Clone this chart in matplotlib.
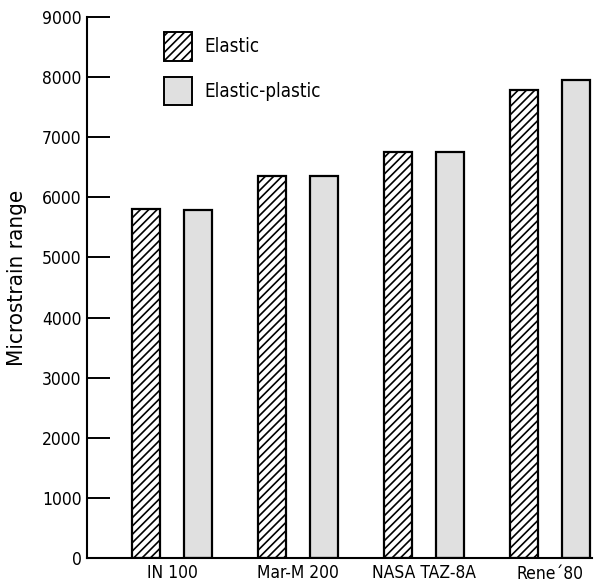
import matplotlib
matplotlib.use("Agg")
import matplotlib.pyplot as plt
import numpy as np
from matplotlib.patches import Patch

categories = ["IN 100", "Mar-M 200", "NASA TAZ-8A", "Rene\u00b480"]
elastic = [5800, 6350, 6760, 7790]
elastic_plastic = [5790, 6360, 6750, 7960]
yticks = [0, 1000, 2000, 3000, 4000, 5000, 6000, 7000, 8000, 9000]

plt.rcParams['font.family'] = ['DejaVu Sans']
plt.rcParams['font.stretch'] = 'condensed'
plt.rcParams['hatch.linewidth'] = 1.2

W, H = 604, 586
fig = plt.figure(figsize=(W/100, H/100), dpi=100)
L, R, B, T = 87, 592, 558, 17
ax = fig.add_axes([L/W, 1-B/H, (R-L)/W, (B-T)/H])

x = np.arange(len(categories))
off = 0.205
bw = 0.22
face2 = '#e0e0e0'
ax.bar(x - off, elastic, bw, facecolor='white', edgecolor='black', hatch='////', linewidth=1.6)
ax.bar(x + off, elastic_plastic, bw, facecolor=face2, edgecolor='black', linewidth=1.6)

ax.set_xlim(-0.675, (R-172)/126)
ax.set_ylim(0, 9000)
ax.set_yticks(yticks)
ax.set_yticklabels([str(v) for v in yticks], fontsize=12.5)
ax.tick_params(axis='y', direction='in', length=16.5, width=1.4, pad=4)
ax.set_xticks(x)
ax.set_xticklabels(categories, fontsize=12.5)
ax.tick_params(axis='x', length=0, pad=4)
for lab in ax.get_xticklabels():
    if lab.get_text().startswith("Rene"):
        lab.set_y(-0.003)
for s in ['top', 'right']:
    ax.spines[s].set_visible(False)
ax.spines['left'].set_linewidth(1.5)
ax.spines['bottom'].set_linewidth(1.5)
ax.set_ylabel("Microstrain range", fontsize=16)
ax.yaxis.set_label_coords((27 - L)/(R - L), (B-278)/(B-T))

fs = 13.5
handles = [Patch(facecolor='white', edgecolor='black', hatch='////', linewidth=1.4, label='Elastic'),
           Patch(facecolor=face2, edgecolor='black', linewidth=1.4, label='Elastic-plastic')]
ax.legend(handles=handles, loc='upper left', bbox_to_anchor=(0.152, 0.973), frameon=False,
          fontsize=fs, handlelength=20.2/fs, handleheight=2.0, labelspacing=0.85,
          borderpad=0, borderaxespad=0, handletextpad=0.65)

fig.savefig("out.png", dpi=100)
